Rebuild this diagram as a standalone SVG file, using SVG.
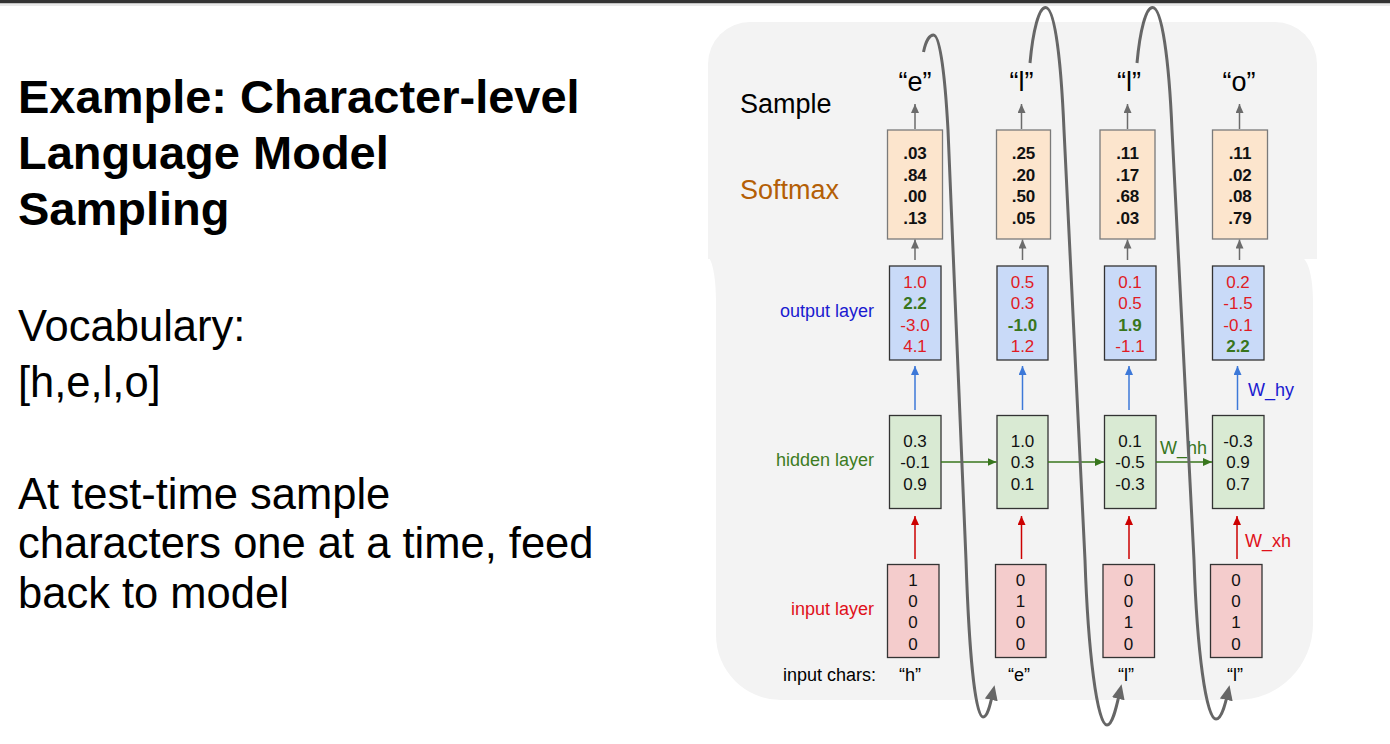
<svg xmlns="http://www.w3.org/2000/svg" width="1390" height="744" viewBox="0 0 1390 744">
<style>
text{font-family:"Liberation Sans",Arial,sans-serif}
.panel{fill:#f3f3f3}
.sm{fill:#fce5cd;stroke:#7a7a7a;stroke-width:1.3}
.out{fill:#c9daf8;stroke:#333;stroke-width:1.3}
.hid{fill:#d9ead3;stroke:#333;stroke-width:1.3}
.inp{fill:#f4cccc;stroke:#333;stroke-width:1.3}
.v{font-size:17px;text-anchor:middle;fill:#111}
.b{font-weight:bold}
.r{fill:#e01b24}
.g{fill:#38761d;font-weight:bold}
.lbl{font-size:18px;text-anchor:end}
.title{font-size:47px;font-weight:bold;fill:#000}
.body{font-size:43.5px;fill:#000}
.big{font-size:27px;fill:#000}
.ch{font-size:18px;text-anchor:middle;fill:#000}
.loop{fill:none;stroke:#666;stroke-width:3;marker-end:url(#mLoop)}
.ag{stroke:#6b6b6b;stroke-width:1.5;marker-end:url(#mGray)}
.ab{stroke:#3c78d8;stroke-width:1.5;marker-end:url(#mBlue)}
.ar{stroke:#cc0000;stroke-width:1.5;marker-end:url(#mRed)}
.agr{stroke:#38761d;stroke-width:1.5;marker-end:url(#mGreen)}
</style>
<defs>
<marker id="mGray" markerUnits="userSpaceOnUse" markerWidth="9" markerHeight="8" refX="9" refY="4" orient="auto"><path d="M0,0L9,4L0,8z" fill="#6b6b6b"/></marker>
<marker id="mBlue" markerUnits="userSpaceOnUse" markerWidth="9" markerHeight="8" refX="9" refY="4" orient="auto"><path d="M0,0L9,4L0,8z" fill="#3c78d8"/></marker>
<marker id="mRed" markerUnits="userSpaceOnUse" markerWidth="9" markerHeight="8" refX="9" refY="4" orient="auto"><path d="M0,0L9,4L0,8z" fill="#cc0000"/></marker>
<marker id="mGreen" markerUnits="userSpaceOnUse" markerWidth="9" markerHeight="8" refX="9" refY="4" orient="auto"><path d="M0,0L9,4L0,8z" fill="#38761d"/></marker>
<marker id="mLoop" markerUnits="userSpaceOnUse" markerWidth="15" markerHeight="13" refX="8" refY="6.5" orient="auto"><path d="M0,0L15,6.5L0,13z" fill="#666"/></marker>
</defs>
<rect x="0" y="0" width="1390" height="744" fill="#fff"/>
<rect x="0" y="0" width="1390" height="3.5" fill="#333"/>
<rect x="0" y="3.5" width="1390" height="2.5" fill="#e9e9e9"/>

<g id="left-text">
<text class="title" x="18" y="113">Example: Character-level</text>
<text class="title" x="18" y="169">Language Model</text>
<text class="title" x="18" y="225">Sampling</text>
<text class="body" x="18" y="341">Vocabulary:</text>
<text class="body" x="18" y="397">[h,e,l,o]</text>
<text class="body" x="18" y="509">At test-time sample</text>
<text class="body" x="18" y="558">characters one at a time, feed</text>
<text class="body" x="18" y="608">back to model</text>
</g>

<g id="panels">
<path class="panel" d="M708,259L708,64A42,42 0 0 1 750,22L1275,22A42,42 0 0 1 1317,64L1317,259Z"/>
<path class="panel" d="M709,258L1303,258C1309,262 1313,280 1313,300L1313,624A76,76 0 0 1 1237,700L781,700A65,65 0 0 1 716,635L716,300C716,280 713,263 709,258Z"/>
</g>

<g id="row-labels">
<text class="big" x="740" y="113">Sample</text>
<text class="big" x="740" y="199" style="fill:#b45f06">Softmax</text>
<text class="lbl" x="874" y="317" style="fill:#1a1ad0">output layer</text>
<text class="lbl" x="874" y="466" style="fill:#3d7b22">hidden layer</text>
<text class="lbl" x="874" y="615" style="fill:#e0101a">input layer</text>
<text class="lbl" x="876" y="681" style="fill:#000">input chars:</text>
<text x="1160" y="454" style="font-size:18px;fill:#38761d">W_hh</text>
<text x="1248" y="396" style="font-size:18px;fill:#1a1ad0">W_hy</text>
<text x="1245" y="547" style="font-size:18px;fill:#e0101a">W_xh</text>
</g>

<g id="sample-chars">
<text class="big" x="915" y="91" text-anchor="middle">“e”</text>
<text class="big" x="1021.5" y="91" text-anchor="middle">“l”</text>
<text class="big" x="1129" y="91" text-anchor="middle">“l”</text>
<text class="big" x="1239" y="91" text-anchor="middle">“o”</text>
</g>

<g id="softmax-1"><rect class="sm" x="887.5" y="130" width="55" height="109"/>
<text class="v b" x="915" y="159">.03</text><text class="v b" x="915" y="181">.84</text><text class="v b" x="915" y="202">.00</text><text class="v b" x="915" y="224">.13</text></g>
<g id="softmax-2"><rect class="sm" x="996.5" y="130" width="54" height="109"/>
<text class="v b" x="1023.5" y="159">.25</text><text class="v b" x="1023.5" y="181">.20</text><text class="v b" x="1023.5" y="202">.50</text><text class="v b" x="1023.5" y="224">.05</text></g>
<g id="softmax-3"><rect class="sm" x="1100" y="130" width="55" height="109"/>
<text class="v b" x="1127.5" y="159">.11</text><text class="v b" x="1127.5" y="181">.17</text><text class="v b" x="1127.5" y="202">.68</text><text class="v b" x="1127.5" y="224">.03</text></g>
<g id="softmax-4"><rect class="sm" x="1212.5" y="130" width="55" height="109"/>
<text class="v b" x="1240" y="159">.11</text><text class="v b" x="1240" y="181">.02</text><text class="v b" x="1240" y="202">.08</text><text class="v b" x="1240" y="224">.79</text></g>

<g id="output-1"><rect class="out" x="889.5" y="266" width="51.5" height="94"/>
<text class="v r" x="915" y="288">1.0</text><text class="v g" x="915" y="309">2.2</text><text class="v r" x="915" y="330.5">-3.0</text><text class="v r" x="915" y="352">4.1</text></g>
<g id="output-2"><rect class="out" x="997" y="266" width="51" height="94"/>
<text class="v r" x="1022.5" y="288">0.5</text><text class="v r" x="1022.5" y="309">0.3</text><text class="v g" x="1022.5" y="330.5">-1.0</text><text class="v r" x="1022.5" y="352">1.2</text></g>
<g id="output-3"><rect class="out" x="1104.5" y="266" width="51.5" height="94"/>
<text class="v r" x="1130" y="288">0.1</text><text class="v r" x="1130" y="309">0.5</text><text class="v g" x="1130" y="330.5">1.9</text><text class="v r" x="1130" y="352">-1.1</text></g>
<g id="output-4"><rect class="out" x="1212.5" y="266" width="51.5" height="94"/>
<text class="v r" x="1238" y="288">0.2</text><text class="v r" x="1238" y="309">-1.5</text><text class="v r" x="1238" y="330.5">-0.1</text><text class="v g" x="1238" y="352">2.2</text></g>

<g id="hidden-1"><rect class="hid" x="889.5" y="415.5" width="51.5" height="93"/>
<text class="v" x="915" y="447">0.3</text><text class="v" x="915" y="468">-0.1</text><text class="v" x="915" y="490">0.9</text></g>
<g id="hidden-2"><rect class="hid" x="997" y="415.5" width="51" height="93"/>
<text class="v" x="1022.5" y="447">1.0</text><text class="v" x="1022.5" y="468">0.3</text><text class="v" x="1022.5" y="490">0.1</text></g>
<g id="hidden-3"><rect class="hid" x="1104.5" y="415.5" width="51.5" height="93"/>
<text class="v" x="1130" y="447">0.1</text><text class="v" x="1130" y="468">-0.5</text><text class="v" x="1130" y="490">-0.3</text></g>
<g id="hidden-4"><rect class="hid" x="1212.5" y="415.5" width="51.5" height="93"/>
<text class="v" x="1238" y="447">-0.3</text><text class="v" x="1238" y="468">0.9</text><text class="v" x="1238" y="490">0.7</text></g>

<g id="input-1"><rect class="inp" x="887.5" y="564.5" width="51.5" height="93"/>
<text class="v" x="913" y="586">1</text><text class="v" x="913" y="607">0</text><text class="v" x="913" y="628">0</text><text class="v" x="913" y="650">0</text></g>
<g id="input-2"><rect class="inp" x="995.5" y="564.5" width="50.5" height="93"/>
<text class="v" x="1020.5" y="586">0</text><text class="v" x="1020.5" y="607">1</text><text class="v" x="1020.5" y="628">0</text><text class="v" x="1020.5" y="650">0</text></g>
<g id="input-3"><rect class="inp" x="1103" y="564.5" width="51.5" height="93"/>
<text class="v" x="1128.5" y="586">0</text><text class="v" x="1128.5" y="607">0</text><text class="v" x="1128.5" y="628">1</text><text class="v" x="1128.5" y="650">0</text></g>
<g id="input-4"><rect class="inp" x="1210.5" y="564.5" width="51.5" height="93"/>
<text class="v" x="1236" y="586">0</text><text class="v" x="1236" y="607">0</text><text class="v" x="1236" y="628">1</text><text class="v" x="1236" y="650">0</text></g>

<g id="input-chars">
<text class="ch" x="910" y="681">“h”</text>
<text class="ch" x="1019" y="681">“e”</text>
<text class="ch" x="1126" y="681">“l”</text>
<text class="ch" x="1235" y="681">“l”</text>
</g>

<g id="connectors">
<line class="ag" x1="915" y1="129" x2="915" y2="104"/>
<line class="ag" x1="1021.5" y1="129" x2="1021.5" y2="104"/>
<line class="ag" x1="1127.5" y1="129" x2="1127.5" y2="104"/>
<line class="ag" x1="1239.5" y1="129" x2="1239.5" y2="104"/>
<line class="ag" x1="915" y1="260" x2="915" y2="239.5"/>
<line class="ag" x1="1022.5" y1="260" x2="1022.5" y2="239.5"/>
<line class="ag" x1="1127.5" y1="260" x2="1127.5" y2="239.5"/>
<line class="ag" x1="1239.5" y1="260" x2="1239.5" y2="239.5"/>
<line class="ab" x1="915" y1="410" x2="915" y2="366"/>
<line class="ab" x1="1022.5" y1="410" x2="1022.5" y2="366"/>
<line class="ab" x1="1129" y1="410" x2="1129" y2="366"/>
<line class="ab" x1="1237.5" y1="410" x2="1237.5" y2="366"/>
<line class="ar" x1="915" y1="559" x2="915" y2="516"/>
<line class="ar" x1="1021.5" y1="559" x2="1021.5" y2="516"/>
<line class="ar" x1="1129" y1="559" x2="1129" y2="516"/>
<line class="ar" x1="1237" y1="559" x2="1237" y2="516"/>
<line class="agr" x1="941" y1="462" x2="996.5" y2="462"/>
<line class="agr" x1="1048" y1="462" x2="1104" y2="462"/>
<line class="agr" x1="1156" y1="462" x2="1212" y2="462"/>
<path class="loop" d="M923.5,52C926,40 930,35 933.5,35C940,35 945,75 948,130L966,560C969,650 975,717 983,717C988,717 991,701 993,692"/>
<path class="loop" d="M1030,63C1033,30 1039,7.5 1045.5,7.5C1055,7.5 1061,60 1064,130L1085,560C1088,650 1097,725 1107,725C1113,725 1117,704 1120,691"/>
<path class="loop" d="M1137,63C1140,30 1146,7.5 1152.5,7.5C1162,7.5 1169,60 1172,130L1194,560C1197,650 1206,719 1216,719C1222,719 1226,701 1228,692"/>
</g>
</svg>
